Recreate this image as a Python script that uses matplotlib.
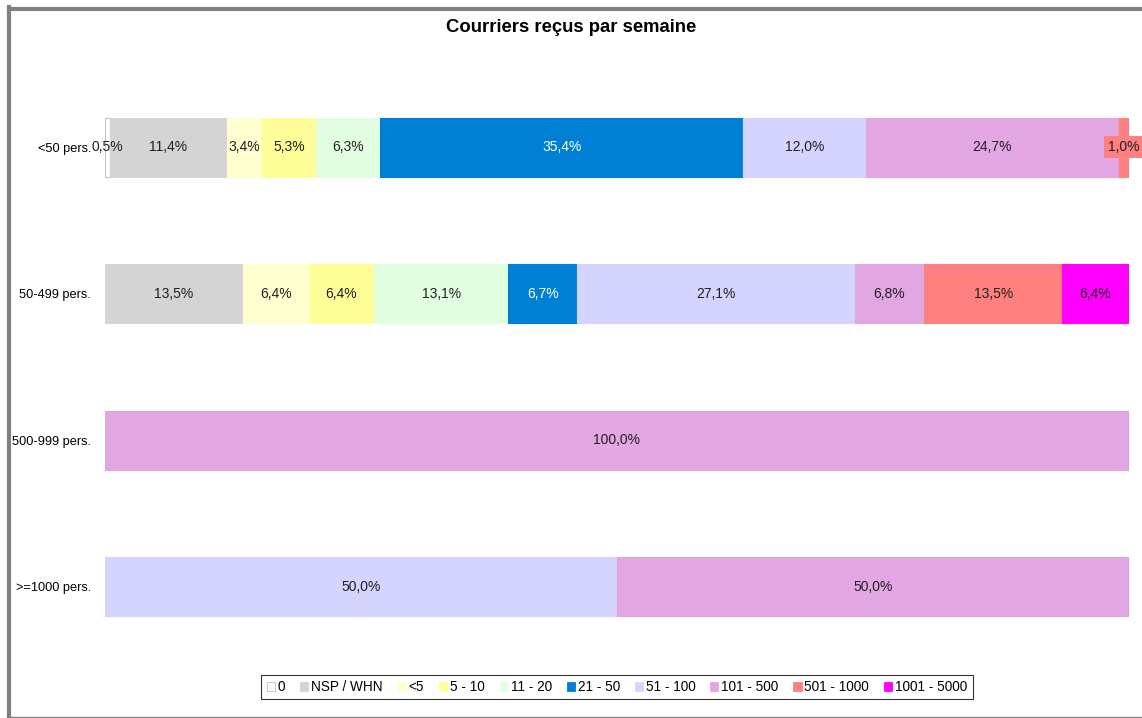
import matplotlib
matplotlib.use('Agg')
import matplotlib.pyplot as plt
from matplotlib.lines import Line2D
from matplotlib.patches import Patch
import numpy as np

plt.rcParams['font.family'] = ['Liberation Sans', 'DejaVu Sans']

# data
groups = ['<50 pers.', '50-499 pers.', '500-999 pers.', '>=1000 pers.']
series = ['0', 'NSP / WHN', '<5', '5 - 10', '11 - 20', '21 - 50',
          '51 - 100', '101 - 500', '501 - 1000', '1001 - 5000']
values = {
    '0':           [0.5, 0.0, 0.0, 0.0],
    'NSP / WHN':   [11.4, 13.5, 0.0, 0.0],
    '<5':          [3.4, 6.4, 0.0, 0.0],
    '5 - 10':      [5.3, 6.4, 0.0, 0.0],
    '11 - 20':     [6.3, 13.1, 0.0, 0.0],
    '21 - 50':     [35.4, 6.7, 0.0, 0.0],
    '51 - 100':    [12.0, 27.1, 0.0, 50.0],
    '101 - 500':   [24.7, 6.8, 100.0, 50.0],
    '501 - 1000':  [1.0, 13.5, 0.0, 0.0],
    '1001 - 5000': [0.0, 6.4, 0.0, 0.0],
}
colors = ['#ffffff', '#d4d4d4', '#ffffd0', '#ffff99', '#e2ffe2', '#0080d4',
          '#d4d4ff', '#e2a6e2', '#ff8080', '#ff00ff']

fig = plt.figure(figsize=(11.42, 7.18), dpi=100)
ax = fig.add_axes([105 / 1142, 1 - 660 / 718, 1024 / 1142, 586 / 718])

y = np.arange(len(groups))
left = np.zeros(len(groups))
for name, col in zip(series, colors):
    vals = np.array(values[name])
    edge = '#c0c0c0' if name == '0' else col
    ax.barh(y, vals, left=left, height=0.4, color=col, edgecolor=edge, linewidth=0.8)
    for i, v in enumerate(vals):
        if v <= 0:
            continue
        txt = f'{v:.1f}%'.replace('.', ',')
        tc = 'white' if name == '21 - 50' else '#202020'
        xc = left[i] + v / 2
        if name == '501 - 1000' and v < 2:
            ax.text(xc, y[i], txt, ha='center', va='center', fontsize=10, color=tc,
                    bbox=dict(boxstyle='square,pad=0.3', fc=col, ec='none'))
        else:
            ax.text(xc, y[i], txt, ha='center', va='center', fontsize=10, color=tc)
    left += vals

ax.set_xlim(0, 100)
ax.set_ylim(3.5, -0.5)
ax.set_yticks(y)
ax.set_yticklabels(groups, fontsize=9.2)
ax.tick_params(axis='y', length=0, pad=10)
ax.set_xticks([])
for s in ax.spines.values():
    s.set_visible(False)

fig.text(0.5, 1 - 28 / 718, 'Courriers reçus par semaine', ha='center', va='center',
         fontsize=13.3, fontweight='bold')

handles = [Patch(facecolor=c, edgecolor=('#c0c0c0' if n == '0' else c), linewidth=0.6)
           for n, c in zip(series, colors)]
leg = fig.legend(handles, series, loc='center', bbox_to_anchor=(617 / 1142, 1 - 687 / 718),
                 ncol=len(series), fontsize=9.8, frameon=True, fancybox=False,
                 handlelength=0.6, handleheight=0.6, handletextpad=0.2, columnspacing=1.1,
                 borderpad=0.4)
leg.get_frame().set_edgecolor('black')
leg.get_frame().set_linewidth(0.8)

# outer frame
fig.add_artist(Line2D([8.5 / 1142, 1], [1 - 8.5 / 718] * 2, transform=fig.transFigure,
                      color='#808080', linewidth=3))
fig.add_artist(Line2D([8.5 / 1142] * 2, [1 - 717 / 718, 1 - 7 / 718], transform=fig.transFigure,
                      color='#808080', linewidth=3))
fig.add_artist(Line2D([7 / 1142, 1], [1 - 717 / 718] * 2, transform=fig.transFigure,
                      color='#808080', linewidth=1))

fig.savefig('out.png', dpi=100)
